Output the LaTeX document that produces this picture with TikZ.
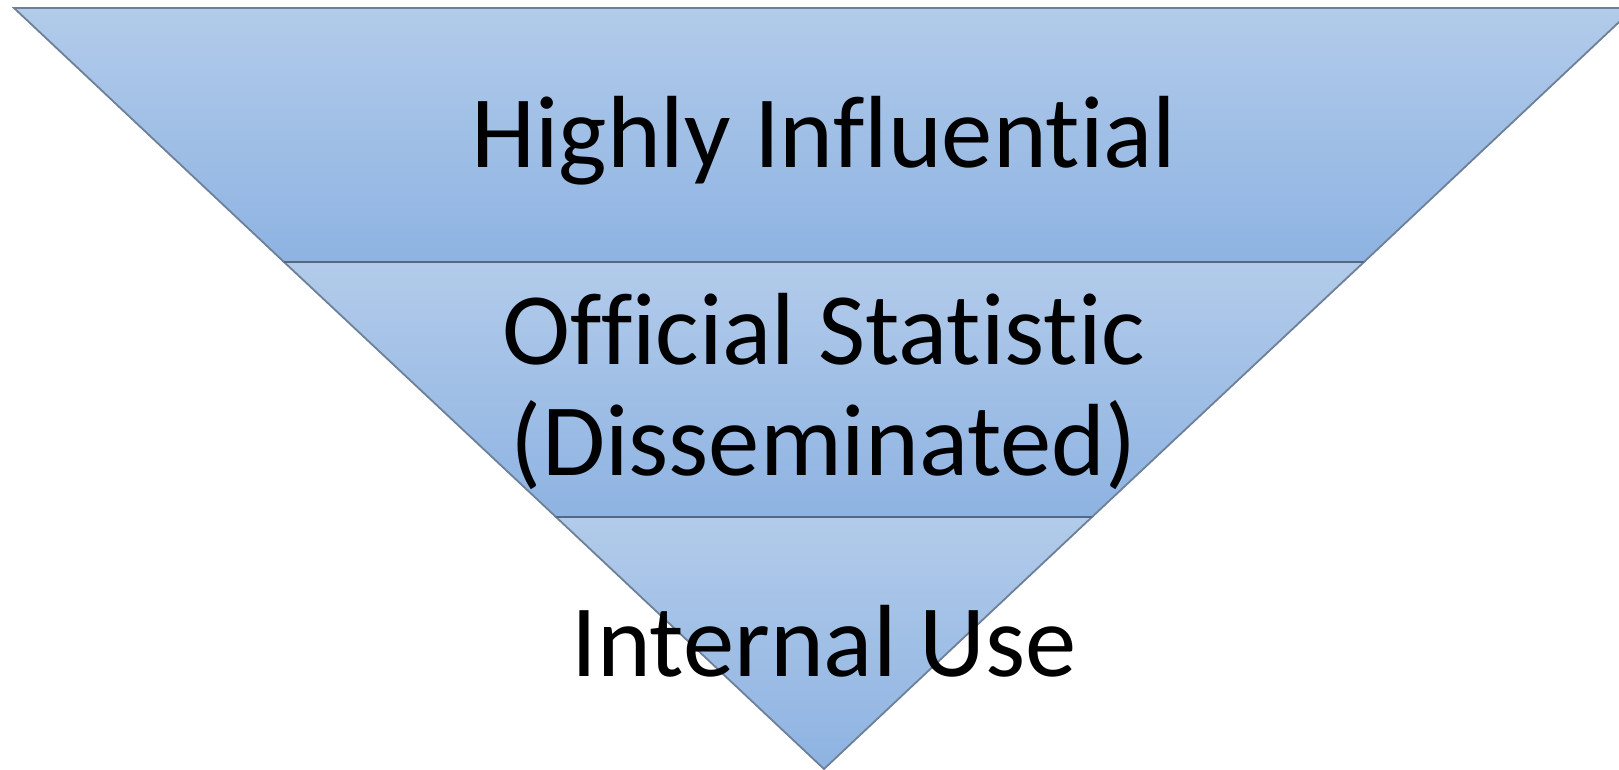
\documentclass[tikz,border=0pt]{standalone}
\usepackage{fontspec}
\setmainfont{Carlito}[Ligatures={NoCommon,NoRare},Contextuals=NoAlternate]
\definecolor{topc}{RGB}{178,203,234}
\definecolor{botc}{RGB}{142,179,226}
\definecolor{edgec}{RGB}{110,128,152}
\definecolor{sepc}{RGB}{85,104,130}
\begin{document}
\begin{tikzpicture}[x=0.5pt,y=-0.5pt,
  layer/.style={top color=topc,bottom color=botc,draw=edgec,line width=0.9pt,line join=miter},
  sep/.style={draw=sepc,line width=1pt},
  lbl/.style={font=\fontsize{51.3}{55}\selectfont,text=black,align=center,inner sep=0pt}]
\useasboundingbox (0,0) rectangle (1619,770);
% layers
\shade[layer] (14,8) -- (1634,8) -- (1364,262) -- (284,262) -- cycle;
\shade[layer] (284,262) -- (1364,262) -- (1092,517) -- (556,517) -- cycle;
\shade[layer] (556,517) -- (1092,517) -- (824,769) -- cycle;
% separators
\coordinate (s1l) at (284,262);
\coordinate (s1r) at (1364,262);
\coordinate (s2l) at (556,517);
\coordinate (s2r) at (1092,517);
\draw[sep] (s1l) -- (s1r);
\draw[sep] (s2l) -- (s2r);
% labels
\node[lbl,anchor=base] (hi) at (824,168) {Highly Influential};
\node[lbl,anchor=base] (os) at (824,475) {Official Statistic\\(Disseminated)};
\node[lbl,anchor=base] (iu) at (824,676) {Internal Use};
\end{tikzpicture}
\end{document}
